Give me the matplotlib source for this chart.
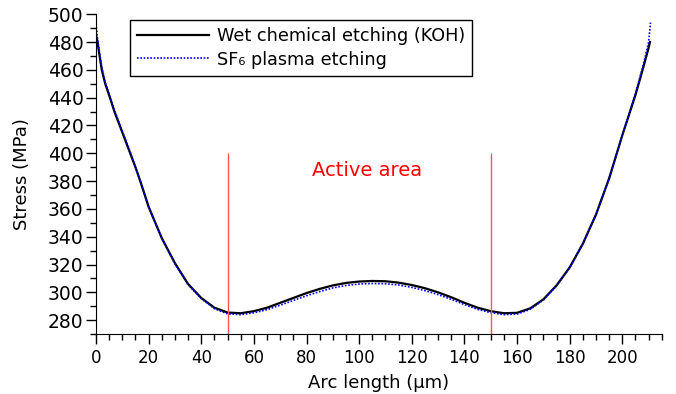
import matplotlib
matplotlib.use("Agg")
import matplotlib.pyplot as plt
from matplotlib.ticker import MultipleLocator

# arc length (um) and stress (MPa)
arc_koh = [0, 0.6, 1.2, 2.2, 3.5, 5.3, 7, 9, 11, 13, 15, 17, 20, 25, 30, 35, 40,
           45, 50, 55, 60, 65, 70, 75, 80, 85, 90, 95, 100, 105, 110, 115, 120,
           125, 130, 135, 140, 145, 150, 155, 160, 165, 170, 175, 180, 185, 190,
           195, 200, 205, 208, 210, 210.5]
stress_koh = [485, 480, 472, 460, 450, 440, 430, 420, 410, 400, 390, 379, 361.5,
              339, 321, 306, 296, 289, 285.5, 285, 286.5, 289, 292.5, 296, 299.5,
              302.5, 305, 306.8, 307.8, 308.2, 308, 307, 305.3, 303, 300, 296.5,
              292.5, 289, 286.5, 285, 285.3, 288.5, 295, 305, 318, 335, 356, 382,
              413, 442, 462, 476, 480]

arc_sf6 = [0, 0.6, 1.2, 2.2, 3.5, 5.3, 7, 9, 11, 13, 15, 17, 20, 25, 30, 35, 40,
           45, 50, 55, 60, 65, 70, 75, 80, 85, 90, 95, 100, 105, 110, 115, 120,
           125, 130, 135, 140, 145, 150, 155, 160, 165, 170, 175, 180, 185, 190,
           195, 200, 205, 208, 210, 210.7]
stress_sf6 = [493, 482, 474, 462, 451, 441, 431, 421, 411, 401, 390, 379, 361.5,
              339, 320.5, 305.5, 295.5, 288.3, 284.5, 284, 285.3, 287.6, 290.8,
              294.2, 297.6, 300.6, 303.2, 305, 306, 306.4, 306.2, 305.3, 303.6,
              301.3, 298.4, 295, 291.2, 287.8, 285.4, 284, 284.4, 287.8, 294.5,
              304.6, 317.6, 334.8, 356, 382, 413, 443, 464, 480, 494]

active_edges = [50, 150]
active_top = 400

plt.rcParams["font.family"] = "DejaVu Sans"

fig = plt.figure(figsize=(6.76, 3.94), dpi=100)
ax = fig.add_axes([0.142, 0.152, 0.837, 0.812])

ax.plot(arc_koh, stress_koh, color="black", linewidth=1.6,
        label="Wet chemical etching (KOH)")
ax.plot(arc_sf6, stress_sf6, color="blue", linewidth=1.2, linestyle=(0, (1, 1)),
        label="SF₆ plasma etching")

for xe in active_edges:
    ax.vlines(xe, 270, active_top, color="#ff5555", linewidth=1)
ax.text(103, 387.5, "Active area", color="red", fontsize=14,
        ha="center", va="center")

ax.set_xlim(0, 215)
ax.set_ylim(270, 500)
ax.xaxis.set_major_locator(MultipleLocator(20))
ax.xaxis.set_minor_locator(MultipleLocator(5))
ax.yaxis.set_major_locator(MultipleLocator(20))
ax.yaxis.set_minor_locator(MultipleLocator(10))
ax.set_xticks(range(0, 201, 20))
ax.tick_params(which="major", length=7, width=1)
ax.tick_params(which="minor", length=4, width=1)
ax.tick_params(axis="x", labelsize=12)
ax.tick_params(axis="y", labelsize=13.5, pad=2)

for s in ["top", "right"]:
    ax.spines[s].set_visible(False)

ax.set_xlabel("Arc length (µm)", fontsize=13, labelpad=5)
ax.set_ylabel("Stress (MPa)", fontsize=13, labelpad=12)

leg = ax.legend(loc="upper left", bbox_to_anchor=(0.06, 0.981), fontsize=12.7,
                fancybox=False, framealpha=1, edgecolor="black",
                borderaxespad=0, handlelength=4.1, handletextpad=0.45,
                borderpad=0.4, labelspacing=0.3)
leg.get_frame().set_linewidth(1)

fig.savefig("out.png", dpi=100)
